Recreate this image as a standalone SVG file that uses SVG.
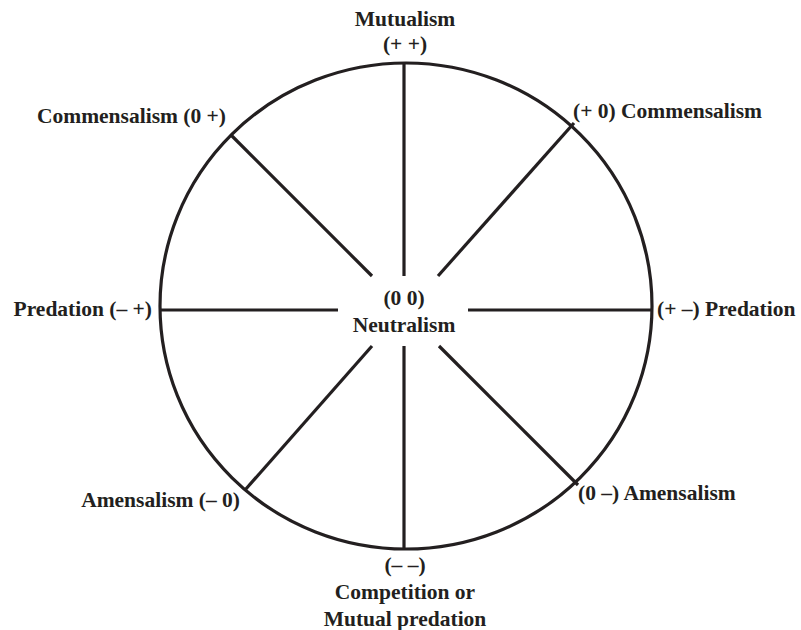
<svg xmlns="http://www.w3.org/2000/svg" width="801" height="630" viewBox="0 0 801 630">
<style>
.l{font-family:"Liberation Serif","Times New Roman",serif;font-weight:bold;font-size:21.5px;fill:#231f20}
.c{text-anchor:middle}
.e{text-anchor:end}
.s{stroke:#231f20;stroke-width:3.2;fill:none;stroke-linecap:butt}
</style>
<rect width="801" height="630" fill="#fff"/>
<g id="circle"><ellipse class="s" cx="406" cy="306" rx="246" ry="243"/></g>
<g id="connectors">
<line class="s" x1="404" y1="63" x2="404" y2="276"/>
<line class="s" x1="404" y1="346" x2="404" y2="549"/>
<line class="s" x1="160" y1="310" x2="338" y2="310"/>
<line class="s" x1="468" y1="310" x2="652" y2="310"/>
<line class="s" x1="231" y1="135" x2="372" y2="276"/>
<line class="s" x1="574" y1="123" x2="438" y2="276"/>
<line class="s" x1="245" y1="490" x2="372" y2="346"/>
<line class="s" x1="578" y1="485" x2="439" y2="346"/>
</g>
<g id="mutualism"><text class="l c" x="405" y="26">Mutualism</text><text class="l c" x="405" y="51">(+ +)</text></g>
<g id="commensalism-left"><text class="l e" x="226" y="123">Commensalism (0 +)</text></g>
<g id="commensalism-right"><text class="l" x="573" y="118">(+ 0) Commensalism</text></g>
<g id="predation-left"><text class="l e" x="152" y="316">Predation (– +)</text></g>
<g id="predation-right"><text class="l" x="657" y="316">(+ –) Predation</text></g>
<g id="neutralism"><text class="l c" x="404" y="305">(0 0)</text><text class="l c" x="404" y="332">Neutralism</text></g>
<g id="amensalism-left"><text class="l e" x="240" y="507">Amensalism (– 0)</text></g>
<g id="amensalism-right"><text class="l" x="578" y="500">(0 –) Amensalism</text></g>
<g id="competition"><text class="l c" x="405" y="572">(– –)</text><text class="l c" x="405" y="599">Competition or</text><text class="l c" x="405" y="626">Mutual predation</text></g>
</svg>
